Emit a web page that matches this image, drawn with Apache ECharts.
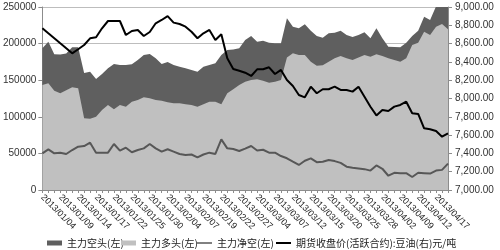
<!DOCTYPE html>
<html><head><meta charset="utf-8">
<script src="https://cdn.jsdelivr.net/npm/echarts@6/dist/echarts.min.js"></script>
<style>html,body{margin:0;padding:0;background:#fff}#c{width:500px;height:250px}</style>
</head><body><div id="c"></div>
<script>
const dates = ['2013/01/04','2013/01/07','2013/01/08','2013/01/09','2013/01/10','2013/01/11','2013/01/14','2013/01/15','2013/01/16','2013/01/17',
'2013/01/18','2013/01/21','2013/01/22','2013/01/23','2013/01/24','2013/01/25','2013/01/28','2013/01/29','2013/01/30','2013/01/31',
'2013/02/01','2013/02/04','2013/02/05','2013/02/06','2013/02/07','2013/02/08','2013/02/18','2013/02/19','2013/02/20','2013/02/21',
'2013/02/22','2013/02/25','2013/02/26','2013/02/27','2013/02/28','2013/03/01','2013/03/04','2013/03/05','2013/03/06','2013/03/07',
'2013/03/08','2013/03/11','2013/03/12','2013/03/13','2013/03/14','2013/03/15','2013/03/18','2013/03/19','2013/03/20','2013/03/21',
'2013/03/22','2013/03/25','2013/03/26','2013/03/27','2013/03/28','2013/03/29','2013/04/01','2013/04/02','2013/04/03','2013/04/08',
'2013/04/09','2013/04/10','2013/04/11','2013/04/12','2013/04/15','2013/04/16','2013/04/17','2013/04/18','2013/04/19'];

const shortPos = [193600,202600,185400,185000,186500,195000,195000,160000,161600,151600,
158500,166200,172100,170800,170800,171700,177600,184400,185800,180000,
172100,175000,170800,168400,166200,163900,161600,168400,170800,173000,
184400,191200,192100,193500,204900,210400,202600,204000,201300,200400,
200400,234500,223100,220800,226300,217600,210400,208000,214000,214900,
217600,211700,209000,211700,215400,207200,220900,207200,195800,195400,
195000,201200,210400,217600,236700,232200,251000,255000,256000];

const longPos = [143400,145700,135700,132100,136200,140300,139000,97900,97500,100100,
109300,116100,110200,116100,113800,120600,122900,126600,125200,122900,
122000,119800,118400,118400,117000,116100,113800,117000,120600,120600,
117000,132100,137500,143400,148000,150300,151200,149300,146600,148000,
150300,181000,186700,184400,184400,175300,169800,170400,175300,179900,
183000,179900,177500,181100,184400,182100,185300,183000,179900,177500,
175300,179900,198100,201200,216200,211700,223100,226800,219500];

const netShort = [50100,55600,50100,51000,49200,54600,59200,60100,64600,51000,
51000,51000,62800,53700,57800,51500,54600,56900,62800,56900,
52400,55600,52400,49200,47800,48500,44600,48500,51000,49200,
69200,56900,56000,53300,56500,60100,54000,55000,51000,51000,
46400,43300,38700,34200,40000,43300,38000,38500,41000,39500,
37000,31900,30500,29500,28500,26500,33500,29000,19500,23500,
23000,23000,17800,23500,23000,22500,26500,27500,36000];

const closePrice = [8767,8712,8658,8603,8549,8494,8538,8585,8658,8669,
8767,8847,8847,8847,8694,8738,8749,8683,8727,8822,
8858,8900,8829,8814,8785,8730,8658,8713,8749,8640,
8702,8440,8323,8304,8282,8246,8319,8319,8341,8268,
8312,8202,8137,8038,8013,8129,8057,8101,8101,8129,
8093,8093,8075,8129,8020,7910,7815,7874,7863,7911,
7929,7965,7838,7831,7674,7663,7645,7583,7620];

const seriesNames = ['主力空头(左)','主力多头(左)','主力净空(左)','期货收盘价(活跃合约):豆油(右)元/吨'];
const leftAxisTicks = [0, 50000, 100000, 150000, 200000, 250000];
const rightAxisTicks = [7000, 7200, 7400, 7600, 7800, 8000, 8200, 8400, 8600, 8800, 9000];

const cjk = '"Noto Sans CJK SC", sans-serif';
const num = '"Liberation Sans", Arial, sans-serif';
const legendPos = [42, 116, 192, 271];
const legendIconH = [5, 5, 1.5, 2];
const legendColors = ['#5f5f5f','#c0c0c0','#575757','#000000'];

const chart = echarts.init(document.getElementById('c'), null, {renderer:'canvas'});
chart.setOption({
  animation:false,
  backgroundColor:'#ffffff',
  grid:{left:42, right:52, top:7, bottom:60},
  legend: seriesNames.map((n,i)=>({
    left: legendPos[i], top: 233,
    itemWidth:15, itemHeight:legendIconH[i], itemGap:0,
    data:[{name:n, icon:'rect', itemStyle:{color:legendColors[i], borderWidth:0}}],
    textStyle:{fontSize:10, color:'#222', fontFamily:cjk},
    selectedMode:false
  })),
  xAxis:{
    type:'category', data:dates, boundaryGap:false,
    axisLine:{lineStyle:{color:'#8c8c8c', width:1}},
    axisTick:{show:true, interval:0, length:3, lineStyle:{color:'#8c8c8c'}},
    axisLabel:{interval:2, rotate:-45, fontSize:9, color:'#222', fontFamily:num, margin:6},
    splitLine:{show:false}
  },
  yAxis:[
    {type:'value', min:leftAxisTicks[0], max:leftAxisTicks[leftAxisTicks.length-1], interval:leftAxisTicks[1]-leftAxisTicks[0],
     axisLine:{show:true, lineStyle:{color:'#8c8c8c'}},
     axisTick:{show:true, length:4, lineStyle:{color:'#8c8c8c'}},
     axisLabel:{fontSize:10, color:'#333', fontFamily:num, margin:6, formatter:v=>String(v)},
     splitLine:{show:true, lineStyle:{color:'#bdbdbd', width:1}}},
    {type:'value', min:rightAxisTicks[0], max:rightAxisTicks[rightAxisTicks.length-1], interval:rightAxisTicks[1]-rightAxisTicks[0],
     position:'right',
     axisLine:{show:true, lineStyle:{color:'#8c8c8c'}},
     axisTick:{show:true, length:4, lineStyle:{color:'#8c8c8c'}},
     axisLabel:{fontSize:10, color:'#333', fontFamily:num, margin:7,
       formatter:v=>v.toLocaleString('en-US',{minimumFractionDigits:2, maximumFractionDigits:2})},
     splitLine:{show:false}}
  ],
  series:[
    {name:seriesNames[0], type:'line', data:shortPos, yAxisIndex:0, symbol:'none', color:'#5f5f5f',
     lineStyle:{width:0}, areaStyle:{color:'#5f5f5f', opacity:1}, z:1},
    {name:seriesNames[1], type:'line', data:longPos, yAxisIndex:0, symbol:'none', color:'#c0c0c0',
     lineStyle:{width:0}, areaStyle:{color:'#c0c0c0', opacity:1}, z:2},
    {name:seriesNames[2], type:'line', data:netShort, yAxisIndex:0, symbol:'none', color:'#575757',
     lineStyle:{width:2, color:'#575757'}, z:3},
    {name:seriesNames[3], type:'line', data:closePrice, yAxisIndex:1, symbol:'none', color:'#000000',
     lineStyle:{width:2, color:'#000000'}, z:4}
  ]
});
</script></body></html>
